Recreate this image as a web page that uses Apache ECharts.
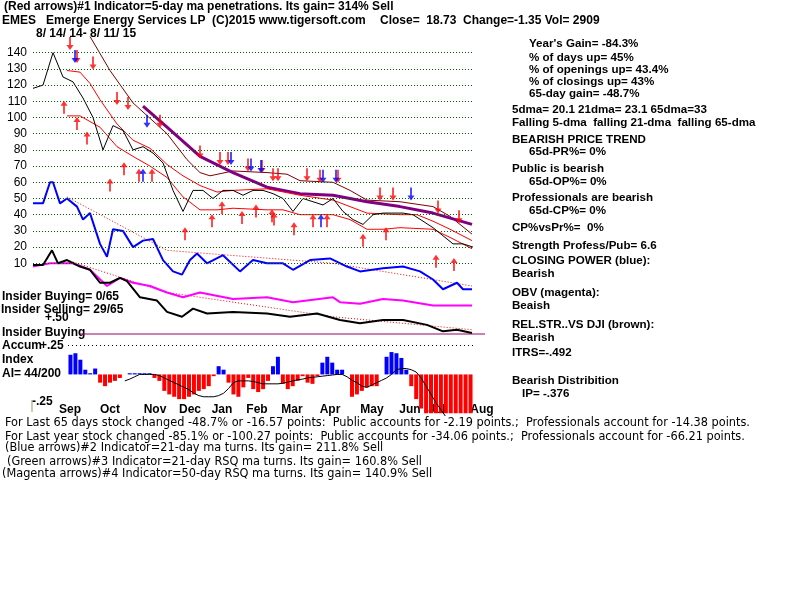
<!DOCTYPE html>
<html>
<head>
<meta charset="utf-8">
<script src="https://cdn.jsdelivr.net/npm/echarts@6/dist/echarts.min.js"></script>
<style>
  html, body { margin: 0; padding: 0; background: #fff; }
  #chart { width: 800px; height: 600px; }
</style>
</head>
<body>
<div id="chart"></div>
<script>
// price panel, x = trading-week index 0..44
const closes = [118, 120, 140, 125, 122, 112, 100, 80, 95, 92, 80, 82, 78, 72, 55, 42, 55, 55, 50, 55,
    55, 52, 55, 55, 53, 50, 42, 50, 48, 46, 50, 42, 37, 34, 40, 41, 41, 41, 40, 36, 32, 27, 22, 22, 20];
const brownMa = [[5.7, 150], [7.7, 129], [10, 109], [13.4, 90], [15.4, 74], [16.7, 66], [17.7, 64], [20, 67],
    [23.4, 66], [25.4, 65], [26.7, 61], [30, 60], [31.7, 55], [33.4, 49], [36.7, 48], [40, 45], [41.7, 39], [43.9, 28]];
const purpleMa = [[11, 107], [13.4, 94], [16.7, 76], [20, 66], [23.4, 57], [26.7, 53], [30, 52], [33.4, 48],
    [36.7, 45], [40, 41], [43.9, 34]];
const upperRed = [[3.4, 129], [4.7, 128], [5.7, 121], [6.7, 111], [8.4, 96], [10, 86], [11.7, 81], [13.4, 71],
    [15, 64], [16.7, 58], [18.4, 54], [20, 55], [23.4, 56], [26.7, 52], [30, 49], [33.4, 41], [36.7, 40],
    [38.4, 40], [40, 36], [41.7, 31], [43.9, 24]];
const lowerRed = [[3.4, 101], [4.7, 101], [6.7, 94], [8.4, 82], [10, 76], [11.7, 70], [13.4, 63], [15, 51],
    [16.7, 43], [18.4, 43], [20, 44], [23.4, 43], [25, 43], [26.7, 40], [30, 40], [31.7, 37], [33.4, 31],
    [35, 31], [36.7, 32], [40, 31], [41.7, 26], [43.9, 19]];
const closingPower = [[0, 47], [1, 47], [1.7, 60], [2, 60], [2.7, 47], [3.4, 50], [4.4, 45], [5, 37], [5.7, 41],
    [6.7, 22], [7.4, 14], [8, 31], [9, 30], [10, 20], [11, 24], [12, 25], [13, 12], [14, 5], [14.9, 3],
    [15.7, 12], [16.4, 16], [17.4, 10], [19, 15], [20.7, 5], [22, 12], [23.4, 10], [25, 10], [26, 6],
    [27.7, 12], [29.7, 13], [31.4, 8], [32.7, 5], [35, 7], [37, 8], [38.7, 5], [40, 0], [41, -6], [42.4, -2],
    [43, -6], [43.9, -6]];
const cpMa = [[3.4, 51], [13.4, 18], [30, 10], [43.9, -4]];
const relStr = [[0, 9], [1, 9], [1.9, 18], [2.5, 10], [3.4, 12], [4.7, 8], [5.7, 6], [6.7, -2], [7.7, -2],
    [8.7, 1], [9.4, -1], [10.7, -11], [12.4, -13], [13.4, -20], [14.9, -23], [16, -18], [17.4, -21], [20, -20],
    [23.4, -21], [25.7, -23], [28.4, -21], [30.7, -25], [32.7, -27], [35, -25], [37, -25], [39.4, -28],
    [41, -32], [42.4, -31], [43.9, -33]];
const relMa = [[3.4, 12], [13.4, -8], [30, -23], [43.9, -31]];
const obv = [[0, 8], [1.7, 10], [4, 10], [5.7, 6], [7.4, -4], [8.7, 1], [10, -2], [11.7, -4], [13.4, -8],
    [15, -11], [16.7, -8], [20, -12], [23.4, -11], [26, -14], [30, -11], [30.7, -14], [32.7, -15], [35, -12],
    [37, -13], [40, -16], [43.9, -16]];
const redDown = [[2.0, 152], [3.7, 142], [4.4, 134], [6.0, 130], [8.4, 108], [9.5, 105], [12.7, 94], [16.7, 75],
    [18.7, 71], [19.5, 71], [21.5, 67], [22.9, 66], [24.0, 61], [24.5, 61], [27.4, 61], [28.7, 60], [30.5, 60],
    [34.7, 49], [36.0, 49], [40.5, 41], [42.6, 35]];
const redUp = [[3.1, 110], [4.4, 100], [5.4, 91], [7.7, 62], [9.1, 72], [10.6, 68], [11.9, 68], [15.2, 32],
    [17.9, 40], [18.9, 48], [20.9, 42], [22.3, 46], [23.9, 43], [24.1, 41], [26.1, 35], [28.0, 40], [29.4, 40],
    [33.0, 28], [35.3, 32], [40.3, 15], [42.1, 13]];
const blueDown = [[4.2, 134], [11.4, 94], [19.8, 71], [21.8, 67], [22.8, 66], [29.0, 60], [30.3, 60], [37.8, 49]];
const blueUp = [[11.0, 68], [28.8, 40]];
const priceTicks = [10, 20, 30, 40, 50, 60, 70, 80, 90, 100, 110, 120, 130, 140];

// accumulation index panel
const accum = [.167, .18, .125, .04, .01, .05, -.07, -.1, -.07, -.055, -.03, 0, .01, .01, .01, .01, .01, -.03,
    -.055, -.14, -.17, -.19, -.21, -.21, -.19, -.17, -.14, -.125, -.1, -.015, .07, .04, -.07, -.17, -.19, -.11,
    -.03, -.125, -.15, -.125, -.055, .07, .15, -.08, -.125, -.1, -.055, -.015, -.07, -.08, -.015, .1, .15, .1,
    .04, .04, 0, -.19, -.17, -.14, -.11, -.1, -.1, 0, .15, .19, .18, .14, .04, -.1, -.21, -.29, -.33, -.33,
    -.33, -.33, -.33, -.33, -.33, -.33, -.33, -.33];
const accumMa = [null, null, null, null, null, null, null, null, null, null, null, -.055, -.04, -.02, 0, 0, 0, 0,
    -.01, -.03, -.05, -.07, -.09, -.11, -.13, -.16, -.18, -.19, -.19, -.19, -.18, -.16, -.12, -.07, -.055, -.055,
    -.055, -.06, -.07, -.08, -.08, -.08, -.08, -.075, -.065, -.055, -.045, -.04, -.03, -.025, -.02, -.015, -.01,
    -.005, 0, 0, -.02, -.05, -.07, -.1, -.11, -.09, -.07, -.05, -.03, 0, .04, .05, .05, .04, .02, -.03, -.1,
    -.17, -.24, -.3, -.36];
const months = ['Sep', 'Oct', 'Nov', 'Dec', 'Jan', 'Feb', 'Mar', 'Apr', 'May', 'Jun', 'Jul', 'Aug'];
const monthX = [70, 110, 155, 190, 222, 257, 292, 330, 372, 410, 437, 482];

const rightText = [
    ["Year's Gain= -84.3%", 529, 38], ['% of days up= 45%', 529, 52], ['% of openings up= 43.4%', 529, 64],
    ['% of closings up= 43%', 529, 76], ['65-day gain= -48.7%', 529, 88],
    ['5dma= 20.1 21dma= 23.1 65dma=33', 512, 104], ['Falling 5-dma  falling 21-dma  falling 65-dma', 512, 117],
    ['BEARISH PRICE TREND', 512, 134], ['65d-PR%= 0%', 529, 146], ['Public is bearish', 512, 163],
    ['65d-OP%= 0%', 529, 176], ['Professionals are bearish', 512, 192], ['65d-CP%= 0%', 529, 205],
    ['CP%vsPr%=  0%', 512, 222], ['Strength Profess/Pub= 6.6', 512, 240], ['CLOSING POWER (blue):', 512, 255],
    ['Bearish', 512, 268], ['OBV (magenta):', 512, 287], ['Beaish', 512, 300],
    ['REL.STR..VS DJI (brown):', 512, 319], ['Bearish', 512, 332], ['ITRS=-.492', 512, 347],
    ['Bearish Distribition', 512, 375], ['IP= -.376', 522, 388]
];
const leftText = [
    ['(Red arrows)#1 Indicator=5-day ma penetrations. Its gain= 314% Sell', 4, 1],
    ['EMES   Emerge Energy Services LP  (C)2015 www.tigersoft.com', 2, 15],
    ['Close=  18.73  Change=-1.35 Vol= 2909', 380, 15],
    ['8/ 14/ 14- 8/ 11/ 15', 36, 28],
    ['Insider Buying= 0/65', 2, 291], ['Insider Selling= 29/65', 1, 304], ['+.50', 45, 312],
    ['Insider Buying', 2, 327], ['Accum', 2, 340], ['+.25', 40, 340], ['Index', 2, 354],
    ['AI= 44/200', 2, 368], ['-.25', 32, 396]
];
const bottomText = [
    ['For Last 65 days stock changed -48.7% or -16.57 points:  Public accounts for -2.19 points.;  Professionals account for -14.38 points.', 5, 416],
    ['For Last year stock changed -85.1% or -100.27 points:  Public accounts for -34.06 points.;  Professionals account for -66.21 points.', 5, 430],
    ['(Blue arrows)#2 Indicator=21-day ma turns. Its gain= 211.8% Sell', 5, 441],
    ['(Green arrows)#3 Indicator=21-day RSQ ma turns. Its gain= 160.8% Sell', 7, 455],
    ['(Magenta arrows)#4 Indicator=50-day RSQ ma turns. Its gain= 140.9% Sell', 2, 467]
];

const boldFont = 'bold 12px "Liberation Sans", Arial, sans-serif';
const rightFont = 'bold 11.6px "Liberation Sans", Arial, sans-serif';
const narrowFont = '12.6px "Liberation Sans Narrow", "DejaVu Sans Condensed", sans-serif';
const downArrow = 'path://M3,0 L5,0 L5,8 L8,8 L4,13 L0,8 L3,8 Z';
const upArrow = 'path://M4,0 L8,5 L5,5 L5,13 L3,13 L3,5 L0,5 Z';

function txt(list, font) {
    return list.map(t => ({
        type: 'text', left: t[1], top: t[2],
        style: { text: t[0], font: font, fill: '#000' }
    }));
}

const graphics = [].concat(
    txt(rightText, rightFont), txt(leftText, boldFont), txt(bottomText, narrowFont),
    months.map((m, i) => ({
        type: 'text', x: monthX[i], y: 404,
        style: { text: m, font: boldFont, fill: '#000', align: 'center' }
    })),
    [{ type: 'line', shape: { x1: 80, y1: 334, x2: 485, y2: 334 }, style: { stroke: '#990066', lineWidth: 1 } },
     { type: 'line', shape: { x1: 32, y1: 400, x2: 32, y2: 412 }, style: { stroke: '#999966', lineWidth: 1 } }]
);

function lineS(data, color, width, type) {
    return {
        type: 'line', data: data, symbol: 'none', silent: true,
        lineStyle: { color: color, width: width, type: type || 'solid' }
    };
}
function arrows(data, color, sym, offY) {
    return {
        type: 'scatter', data: data, symbol: sym, symbolSize: [7, 13],
        symbolOffset: [0, offY], itemStyle: { color: color }, z: 5
    };
}

const chart = echarts.init(document.getElementById('chart'));
chart.setOption({
    animation: false,
    backgroundColor: '#fff',
    graphic: graphics,
    grid: [
        { left: 33, width: 440, top: 36.5, height: 324 },
        { left: 68, width: 405, top: 345, height: 70.6 }
    ],
    xAxis: [
        { type: 'value', gridIndex: 0, min: 0, max: 44, show: false },
        { type: 'category', gridIndex: 1, data: accum.map((v, i) => i), show: false }
    ],
    yAxis: [
        {
            type: 'value', gridIndex: 0, min: -50, max: 150, interval: 10,
            axisLine: { show: false }, axisTick: { show: false }, splitLine: { show: false },
            axisLabel: {
                margin: 6,
                font: 'bold 13px "Liberation Sans", Arial, sans-serif', color: '#000',
                formatter: v => priceTicks.includes(v) ? String(v) : ''
            }
        },
        { type: 'value', gridIndex: 1, min: -0.35, max: 0.25, show: false }
    ],
    series: [
        {
            type: 'line', data: [], silent: true,
            markLine: {
                symbol: 'none', silent: true, label: { show: false },
                lineStyle: { color: '#006600', type: [1, 2], width: 1 },
                data: priceTicks.map(v => ({ yAxis: v }))
            }
        },
        lineS(cpMa, '#ff0000', 1, [1, 2]),
        lineS(relMa, '#ff0000', 1, [1, 2]),
        lineS(brownMa, '#800000', 1),
        lineS(purpleMa, '#800080', 3),
        lineS(upperRed, '#ff0000', 1),
        lineS(lowerRed, '#ff0000', 1),
        lineS(closes.map((v, i) => [i, v]), '#000', 1),
        lineS(obv, '#ff00ff', 2),
        lineS(relStr, '#000', 2),
        lineS(closingPower, '#0000ff', 2),
        arrows(redDown, '#ff0000', downArrow, -6),
        arrows(redUp, '#ff0000', upArrow, 6),
        arrows(blueDown, '#0000ff', downArrow, -6),
        arrows(blueUp, '#0000ff', upArrow, 6),
        {
            type: 'bar', xAxisIndex: 1, yAxisIndex: 1, barWidth: 4,
            data: accum.map(v => ({ value: v, itemStyle: { color: v >= 0 ? '#0000ff' : '#ff0000' } })),
            markLine: {
                symbol: 'none', silent: true, label: { show: false },
                lineStyle: { color: '#000', type: [1, 3], width: 1 },
                data: [{ yAxis: 0.25 }]
            }
        },
        {
            type: 'line', xAxisIndex: 1, yAxisIndex: 1, data: accumMa, symbol: 'none', silent: true,
            lineStyle: { color: '#000', width: 1 }
        }
    ]
});
</script>
</body>
</html>
